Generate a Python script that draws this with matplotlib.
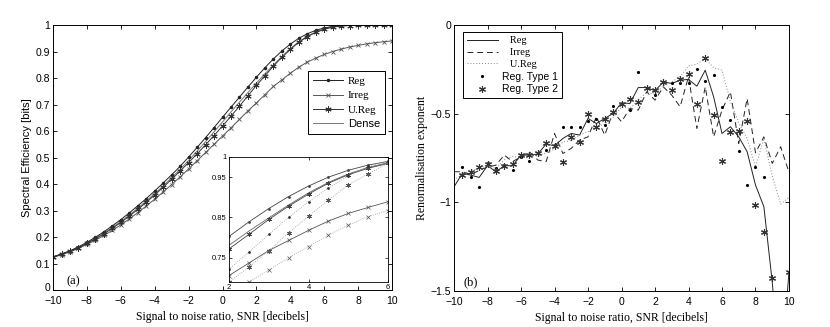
import numpy as np
import matplotlib
matplotlib.use("Agg")
import matplotlib.pyplot as plt
from matplotlib.transforms import ScaledTranslation

# ---- data: panel (a) spectral efficiency, SNR step 0.5 dB ----
snr = np.arange(-10, 10.01, 0.5)

reg = [0.125, 0.136, 0.148, 0.163, 0.180, 0.199, 0.220, 0.242, 0.266, 0.291,
       0.318, 0.345, 0.374, 0.404, 0.435, 0.467, 0.502, 0.538, 0.575, 0.613,
       0.652, 0.690, 0.728, 0.766, 0.803, 0.839, 0.872, 0.902, 0.928, 0.950,
       0.967, 0.980, 0.989, 0.995, 0.998, 0.999, 1.0, 1.0, 1.0, 1.0, 1.0]
dense = [0.125, 0.136, 0.147, 0.161, 0.177, 0.195, 0.215, 0.236, 0.259, 0.283,
         0.309, 0.336, 0.364, 0.393, 0.424, 0.456, 0.489, 0.524, 0.560, 0.597,
         0.634, 0.672, 0.709, 0.745, 0.781, 0.816, 0.849, 0.881, 0.911, 0.937,
         0.958, 0.974, 0.986, 0.993, 0.997, 0.999, 1.0, 1.0, 1.0, 1.0, 1.0]
ureg = [0.124, 0.135, 0.146, 0.160, 0.176, 0.193, 0.212, 0.233, 0.255, 0.279,
        0.304, 0.331, 0.359, 0.388, 0.418, 0.449, 0.481, 0.514, 0.548, 0.583,
        0.619, 0.656, 0.694, 0.733, 0.772, 0.808, 0.845, 0.878, 0.908, 0.935,
        0.956, 0.972, 0.984, 0.992, 0.996, 0.998, 1.0, 1.0, 1.0, 1.0, 1.0]
irreg = [0.123, 0.133, 0.144, 0.157, 0.172, 0.188, 0.206, 0.225, 0.246, 0.268,
         0.292, 0.317, 0.343, 0.370, 0.398, 0.427, 0.457, 0.488, 0.519, 0.550,
         0.581, 0.612, 0.644, 0.676, 0.706, 0.737, 0.768, 0.793, 0.818, 0.841,
         0.860, 0.875, 0.889, 0.900, 0.909, 0.917, 0.923, 0.929, 0.933, 0.937, 0.940]

# inset extra (dotted) curves, SNR 2..6 dB
snr_in = np.arange(2, 6.01, 0.5)
reg_b = [0.722, 0.764, 0.808, 0.850, 0.889, 0.923, 0.953, 0.977, 0.990]
ureg_b = [0.690, 0.727, 0.768, 0.812, 0.853, 0.893, 0.931, 0.958, 0.985]
irreg_b = [0.665, 0.690, 0.720, 0.750, 0.778, 0.806, 0.831, 0.852, 0.867]

# ---- data: panel (b) renormalisation exponent ----
ren_reg = [-0.912, -0.836, -0.846, -0.859, -0.793, -0.827, -0.793, -0.793, -0.733, -0.733,
           -0.727, -0.671, -0.680, -0.639, -0.611, -0.620, -0.526, -0.555, -0.526, -0.498,
           -0.438, -0.442, -0.352, -0.352, -0.370, -0.320, -0.329, -0.310, -0.306, -0.344,
           -0.254, -0.404, -0.611, -0.573, -0.630, -0.714, -0.902, -1.024, -1.45, -2.0, -1.391]
ren_irreg = [-0.827, -0.827, -0.842, -0.820, -0.800, -0.790, -0.733, -0.770, -0.742, -0.714,
             -0.761, -0.770, -0.611, -0.724, -0.695, -0.648, -0.630, -0.517, -0.620, -0.489,
             -0.545, -0.470, -0.479, -0.376, -0.423, -0.348, -0.395, -0.460, -0.291, -0.583,
             -0.348, -0.630, -0.479, -0.376, -0.667, -0.414, -0.720, -0.630, -0.780, -0.686, -0.830]
ren_ureg = [-0.874, -0.840, -0.820, -0.810, -0.790, -0.810, -0.760, -0.740, -0.750, -0.720,
            -0.740, -0.720, -0.700, -0.660, -0.650, -0.620, -0.600, -0.570, -0.560, -0.520,
            -0.460, -0.470, -0.420, -0.380, -0.390, -0.340, -0.320, -0.290, -0.230, -0.220,
            -0.190, -0.240, -0.254, -0.430, -0.550, -0.640, -0.800, -0.640, -0.850, -1.010, -0.970]
type1 = [np.nan, -0.800, -0.855, -0.915, -0.780, -0.808, -0.790, -0.818, -0.742, -0.767,
         -0.720, -0.705, -0.677, -0.577, -0.577, -0.577, -0.539, -0.532, -0.564, -0.457,
         -0.442, -0.476, -0.263, -0.352, -0.395, -0.323, -0.325, -0.329, -0.329, -0.248,
         -0.316, -0.282, -0.464, -0.536, -0.709, -0.902, -0.799, -0.859, -1.7, -1.7, -1.7]
type2 = [np.nan, -0.846, -0.827, -0.803, -0.786, -0.821, -0.793, -0.786, -0.733, -0.733,
         -0.724, -0.667, -0.680, -0.774, -0.633, -0.658, -0.502, -0.573, -0.530, -0.492,
         -0.442, -0.419, -0.432, -0.352, -0.367, -0.323, -0.363, -0.305, -0.276, -0.445,
         -0.184, -0.508, -0.765, -0.605, -0.598, -0.539, -1.015, -1.169, -1.429, -1.7, -1.391]

xtick_labels = ["\u221210", "\u22128", "\u22126", "\u22124", "\u22122", "0", "2", "4", "6", "8", "10"]

SANS = "Liberation Sans"
SERIF = "Liberation Serif"
ASTER = (6, 2, 0)  # matlab-like asterisk

plt.rcParams["font.family"] = SANS
plt.rcParams["font.size"] = 7.5

fig = plt.figure(figsize=(8.3, 3.27), dpi=100)
axa = fig.add_axes([0.0639, 0.1131, 0.4084, 0.8104])
axb = fig.add_axes([0.547, 0.110, 0.4036, 0.813])
axi = fig.add_axes([0.2759, 0.1376, 0.1916, 0.3823])


def matlab_style(ax):
    ax.tick_params(direction="in", top=True, right=True, length=3, width=0.6,
                   labelsize=7.5, pad=2)
    ax.tick_params(axis="x", pad=4)
    for s in ax.spines.values():
        s.set_linewidth(0.7)


# ---- panel (a) ----
lw = 0.7
axa.plot(snr, dense, color="#777777", lw=lw, label="Dense")
axa.plot(snr, reg, color="#222222", lw=lw, marker=".", ms=3, label="Reg")
axa.plot(snr, irreg, color="#555555", lw=lw, marker="x", ms=3.5, mew=0.6, label="Irreg")
axa.plot(snr, ureg, color="#333333", lw=lw, marker=ASTER, ms=4.5, mew=0.7, label="U.Reg")
axa.set_xlim(-10, 10)
axa.set_ylim(0, 1)
axa.set_xticks(np.arange(-10, 11, 2))
axa.set_xticklabels(xtick_labels)
axa.set_yticks(np.arange(0, 1.01, 0.1))
axa.set_yticklabels(["0", "0.1", "0.2", "0.3", "0.4", "0.5", "0.6", "0.7", "0.8", "0.9", "1"])
matlab_style(axa)
axa.set_xlabel("Signal to noise ratio, SNR [decibels]", family=SERIF, fontsize=8.5, labelpad=4)
axa.set_ylabel("Spectral Efficiency [bits]", fontsize=8, labelpad=3)
axa.text(-9.2, 0.02, "(a)", family=SERIF, fontsize=9)

# lift the bottom "0" a touch so it clears the "-10" below it
zero_lbl = axa.get_yticklabels()[0]
zero_lbl.set_transform(zero_lbl.get_transform() + ScaledTranslation(0, 2 / 72, fig.dpi_scale_trans))

h = {l.get_label(): l for l in axa.get_lines()}
leg = axa.legend([h["Reg"], h["Irreg"], h["U.Reg"], h["Dense"]],
                 ["Reg", "Irreg", "U.Reg", "Dense"], loc="upper left",
                 bbox_to_anchor=(0.753, 0.825), fancybox=False, edgecolor="black",
                 framealpha=1, fontsize=8, numpoints=1, handlelength=2.7,
                 handletextpad=0.4, borderpad=0.45, labelspacing=0.4,
                 borderaxespad=0)
leg.get_frame().set_linewidth(0.7)
for t, fam in zip(leg.get_texts(), [SERIF, SERIF, SERIF, SANS]):
    t.set_family(fam)

# ---- inset ----
axi.plot(snr, dense, color="#666666", lw=0.6)
axi.plot(snr, reg, color="#444444", lw=0.6, marker=".", ms=2)
axi.plot(snr, irreg, color="#555555", lw=0.6, marker="x", ms=2.5, mew=0.5)
axi.plot(snr, ureg, color="#444444", lw=0.6, marker=ASTER, ms=3.5, mew=0.6)
axi.plot(snr_in, reg_b, color="#999999", lw=0.6, ls=":", marker=".", ms=2, mec="#333333", mfc="#333333")
axi.plot(snr_in, ureg_b, color="#999999", lw=0.6, ls=":", marker=ASTER, ms=3.5, mew=0.6, mec="#555555")
axi.plot(snr_in, irreg_b, color="#999999", lw=0.6, ls=":", marker="x", ms=2.5, mew=0.5, mec="#555555")
axi.set_xlim(2, 6)
axi.set_ylim(0.69, 1.0)
axi.set_xticks([2, 4, 6])
axi.set_yticks([0.75, 0.85, 0.95, 1.0])
axi.set_yticklabels(["0.75", "0.85", "0.95", "1"])
axi.tick_params(direction="in", top=True, right=True, length=2, width=0.5, labelsize=5.5, pad=1.5)
for s in axi.spines.values():
    s.set_linewidth(0.6)

# ---- panel (b) ----
axb.plot(snr, ren_reg, color="#222222", lw=0.7, label="   Reg")
axb.plot(snr, ren_irreg, color="#222222", lw=0.7, ls=(0, (6, 4)), label="   Irreg")
axb.plot(snr, ren_ureg, color="#888888", lw=0.7, ls=(0, (1, 2)), label="   U.Reg")
axb.plot(snr, type1, ls="none", color="black", marker=".", ms=2.5, label="Reg. Type 1")
axb.plot(snr, type2, ls="none", color="#333333", marker=ASTER, ms=5, mew=0.8, label="Reg. Type 2")
axb.set_xlim(-10, 10)
axb.set_ylim(-1.5, 0)
axb.set_xticks(np.arange(-10, 11, 2))
axb.set_xticklabels(xtick_labels)
axb.set_yticks([-1.5, -1, -0.5, 0])
axb.set_yticklabels(["\u22121.5", "\u22121", "\u22120.5", "0"])
matlab_style(axb)
axb.set_xlabel("Signal to noise ratio, SNR [decibels]", family=SERIF, fontsize=8.5, labelpad=4)
axb.set_ylabel("Renormalisation exponent", family=SERIF, fontsize=8.5, labelpad=2)
axb.text(-9.45, -1.47, "(b)", family=SERIF, fontsize=9)

legb = axb.legend(loc="upper left", bbox_to_anchor=(0.027, 0.973), fancybox=False,
                  edgecolor="black", framealpha=1, fontsize=7.5, numpoints=1,
                  handlelength=3.0, handletextpad=0.4, borderpad=0.35,
                  labelspacing=0.25, borderaxespad=0)
legb.get_frame().set_linewidth(0.7)
for t, fam in zip(legb.get_texts(), [SERIF, SERIF, SERIF, SANS, SANS]):
    t.set_family(fam)

fig.savefig("out.png", dpi=100)
